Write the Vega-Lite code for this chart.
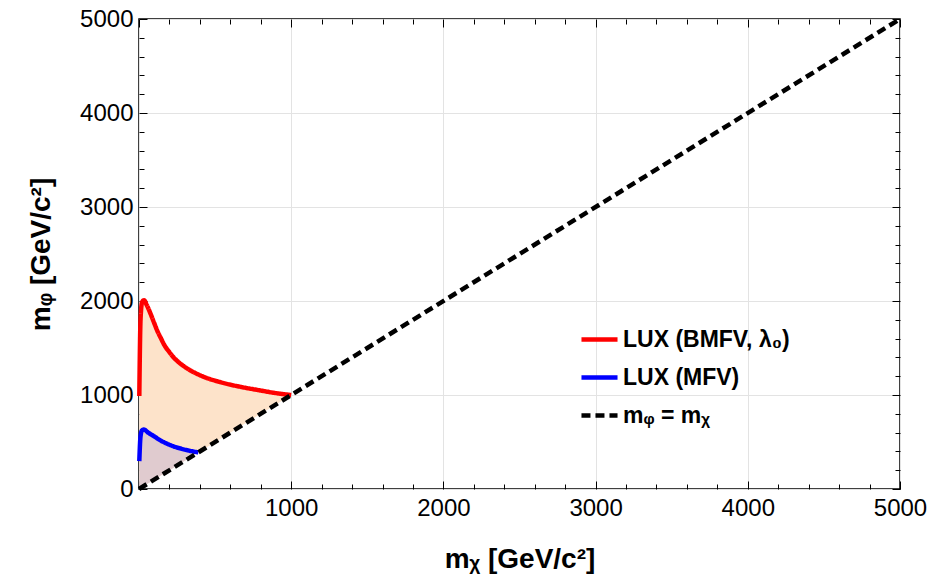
{
  "$schema": "https://vega.github.io/schema/vega-lite/v6.json",
  "width": 761,
  "height": 470,
  "autosize": {"type": "none"},
  "padding": {"left": 139, "top": 19, "right": 32, "bottom": 96},
  "config": {
    "view": {"stroke": "black", "strokeWidth": 1.5},
    "font": "Liberation Sans"
  },
  "datasets": {
    "red": [
      {"mx": 2, "mphi": 990, "lo": 2},
      {"mx": 10, "mphi": 1800, "lo": 10},
      {"mx": 20, "mphi": 1985, "lo": 20},
      {"mx": 33, "mphi": 2009, "lo": 33},
      {"mx": 50, "mphi": 1960, "lo": 50},
      {"mx": 77, "mphi": 1860, "lo": 77},
      {"mx": 100, "mphi": 1765, "lo": 100},
      {"mx": 121, "mphi": 1680, "lo": 121},
      {"mx": 145, "mphi": 1600, "lo": 145},
      {"mx": 166, "mphi": 1533, "lo": 166},
      {"mx": 200, "mphi": 1455, "lo": 200},
      {"mx": 232, "mphi": 1392, "lo": 232},
      {"mx": 275, "mphi": 1330, "lo": 275},
      {"mx": 320, "mphi": 1279, "lo": 320},
      {"mx": 408, "mphi": 1205, "lo": 408},
      {"mx": 541, "mphi": 1134, "lo": 541},
      {"mx": 673, "mphi": 1085, "lo": 673},
      {"mx": 806, "mphi": 1046, "lo": 806},
      {"mx": 900, "mphi": 1020, "lo": 900},
      {"mx": 1000, "mphi": 1000, "lo": 1000}
    ],
    "blue": [
      {"mx": 2, "mphi": 296, "lo": 2},
      {"mx": 10, "mphi": 560, "lo": 10},
      {"mx": 20, "mphi": 625, "lo": 20},
      {"mx": 33, "mphi": 632, "lo": 33},
      {"mx": 60, "mphi": 600, "lo": 60},
      {"mx": 99, "mphi": 561, "lo": 99},
      {"mx": 140, "mphi": 518, "lo": 140},
      {"mx": 187, "mphi": 480, "lo": 187},
      {"mx": 230, "mphi": 452, "lo": 230},
      {"mx": 276, "mphi": 430, "lo": 276},
      {"mx": 330, "mphi": 408, "lo": 330},
      {"mx": 390, "mphi": 390, "lo": 390}
    ],
    "lines": [
      {"series": "LUX (BMFV, λ₀)", "mx": 2, "mphi": 990},
      {"series": "LUX (BMFV, λ₀)", "mx": 10, "mphi": 1800},
      {"series": "LUX (BMFV, λ₀)", "mx": 20, "mphi": 1985},
      {"series": "LUX (BMFV, λ₀)", "mx": 33, "mphi": 2009},
      {"series": "LUX (BMFV, λ₀)", "mx": 50, "mphi": 1960},
      {"series": "LUX (BMFV, λ₀)", "mx": 77, "mphi": 1860},
      {"series": "LUX (BMFV, λ₀)", "mx": 100, "mphi": 1765},
      {"series": "LUX (BMFV, λ₀)", "mx": 121, "mphi": 1680},
      {"series": "LUX (BMFV, λ₀)", "mx": 145, "mphi": 1600},
      {"series": "LUX (BMFV, λ₀)", "mx": 166, "mphi": 1533},
      {"series": "LUX (BMFV, λ₀)", "mx": 200, "mphi": 1455},
      {"series": "LUX (BMFV, λ₀)", "mx": 232, "mphi": 1392},
      {"series": "LUX (BMFV, λ₀)", "mx": 275, "mphi": 1330},
      {"series": "LUX (BMFV, λ₀)", "mx": 320, "mphi": 1279},
      {"series": "LUX (BMFV, λ₀)", "mx": 408, "mphi": 1205},
      {"series": "LUX (BMFV, λ₀)", "mx": 541, "mphi": 1134},
      {"series": "LUX (BMFV, λ₀)", "mx": 673, "mphi": 1085},
      {"series": "LUX (BMFV, λ₀)", "mx": 806, "mphi": 1046},
      {"series": "LUX (BMFV, λ₀)", "mx": 900, "mphi": 1020},
      {"series": "LUX (BMFV, λ₀)", "mx": 1000, "mphi": 1000},
      {"series": "LUX (MFV)", "mx": 2, "mphi": 296},
      {"series": "LUX (MFV)", "mx": 10, "mphi": 560},
      {"series": "LUX (MFV)", "mx": 20, "mphi": 625},
      {"series": "LUX (MFV)", "mx": 33, "mphi": 632},
      {"series": "LUX (MFV)", "mx": 60, "mphi": 600},
      {"series": "LUX (MFV)", "mx": 99, "mphi": 561},
      {"series": "LUX (MFV)", "mx": 140, "mphi": 518},
      {"series": "LUX (MFV)", "mx": 187, "mphi": 480},
      {"series": "LUX (MFV)", "mx": 230, "mphi": 452},
      {"series": "LUX (MFV)", "mx": 276, "mphi": 430},
      {"series": "LUX (MFV)", "mx": 330, "mphi": 408},
      {"series": "LUX (MFV)", "mx": 390, "mphi": 390},
      {"series": "mᵩ = mᵪ", "mx": 0, "mphi": 0},
      {"series": "mᵩ = mᵪ", "mx": 5000, "mphi": 5000}
    ]
  },
  "layer": [
    {
      "data": {"name": "red"},
      "mark": {"type": "area", "interpolate": "monotone", "color": "#FDE3CA"},
      "encoding": {
        "x": {
          "field": "mx", "type": "quantitative",
          "scale": {"domain": [0, 5000], "nice": false},
          "axis": {
            "orient": "bottom",
            "values": [0,200,400,600,800,1000,1200,1400,1600,1800,2000,2200,2400,2600,2800,3000,3200,3400,3600,3800,4000,4200,4400,4600,4800,5000],
            "format": "d",
            "labelExpr": "datum.value % 1000 === 0 && datum.value > 0 ? datum.label : ''",
            "domain": false,
            "tickColor": "black",
            "tickWidth": 1,
            "tickSize": {"condition": {"test": "datum.value % 1000 === 0", "value": -8}, "value": -5},
            "grid": true,
            "gridColor": "#e3e3e3",
            "gridOpacity": {"condition": {"test": "datum.value % 1000 === 0", "value": 1}, "value": 0},
            "labelFontSize": 24,
            "labelColor": "black",
            "labelPadding": 15,
            "labelFlush": false,
            "title": "mᵪ [GeV/c²]",
            "titleFontSize": 28,
            "titleFontWeight": "bold",
            "titleColor": "black",
            "titlePadding": 25
          }
        },
        "y": {
          "field": "mphi", "type": "quantitative",
          "scale": {"domain": [0, 5000], "nice": false},
          "axis": {
            "orient": "left",
            "values": [0,200,400,600,800,1000,1200,1400,1600,1800,2000,2200,2400,2600,2800,3000,3200,3400,3600,3800,4000,4200,4400,4600,4800,5000],
            "format": "d",
            "labelExpr": "datum.value % 1000 === 0 ? datum.label : ''",
            "domain": false,
            "tickColor": "black",
            "tickWidth": 1,
            "tickSize": {"condition": {"test": "datum.value % 1000 === 0", "value": -8}, "value": -5},
            "grid": true,
            "gridColor": "#e3e3e3",
            "gridOpacity": {"condition": {"test": "datum.value % 1000 === 0", "value": 1}, "value": 0},
            "labelFontSize": 24,
            "labelColor": "black",
            "labelPadding": 14,
            "labelFlush": false,
            "title": "mᵩ [GeV/c²]",
            "titleFontSize": 28,
            "titleFontWeight": "bold",
            "titleColor": "black",
            "titlePadding": 24
          }
        },
        "y2": {"field": "lo"}
      }
    },
    {
      "data": {"name": "blue"},
      "mark": {"type": "area", "interpolate": "monotone", "color": "#E0CBCF"},
      "encoding": {
        "x": {
          "field": "mx", "type": "quantitative",
          "axis": {
            "orient": "top",
            "values": [0,200,400,600,800,1000,1200,1400,1600,1800,2000,2200,2400,2600,2800,3000,3200,3400,3600,3800,4000,4200,4400,4600,4800,5000],
            "labels": false, "domain": false, "grid": false, "title": null,
            "tickColor": "black",
            "tickSize": {"condition": {"test": "datum.value % 1000 === 0", "value": -8}, "value": -5}
          }
        },
        "y": {
          "field": "mphi", "type": "quantitative",
          "axis": {
            "orient": "right",
            "values": [0,200,400,600,800,1000,1200,1400,1600,1800,2000,2200,2400,2600,2800,3000,3200,3400,3600,3800,4000,4200,4400,4600,4800,5000],
            "labels": false, "domain": false, "grid": false, "title": null,
            "tickColor": "black",
            "tickSize": {"condition": {"test": "datum.value % 1000 === 0", "value": -8}, "value": -5}
          }
        },
        "y2": {"field": "lo"}
      }
    },
    {
      "data": {"name": "lines"},
      "mark": {"type": "line", "interpolate": "monotone"},
      "encoding": {
        "x": {"field": "mx", "type": "quantitative", "axis": null},
        "y": {"field": "mphi", "type": "quantitative", "axis": null},
        "color": {
          "field": "series", "type": "nominal",
          "scale": {"domain": ["LUX (BMFV, λ₀)", "LUX (MFV)", "mᵩ = mᵪ"], "range": ["#ff0000", "#0000ff", "#000000"]},
          "legend": {
            "orient": "none",
            "legendX": 440,
            "legendY": 300,
            "title": null,
            "symbolType": "stroke",
            "symbolSize": 1300,
            "labelFontSize": 23,
            "labelFontWeight": "bold",
            "labelColor": "black",
            "labelOffset": 3,
            "rowPadding": 5,
            "labelLimit": 300
          }
        },
        "strokeDash": {
          "field": "series", "type": "nominal",
          "scale": {"domain": ["LUX (BMFV, λ₀)", "LUX (MFV)", "mᵩ = mᵪ"], "range": [[1, 0], [1, 0], [9, 5]]}
        },
        "strokeWidth": {
          "field": "series", "type": "nominal",
          "scale": {"domain": ["LUX (BMFV, λ₀)", "LUX (MFV)", "mᵩ = mᵪ"], "range": [4.5, 4.5, 3]}
        }
      }
    }
  ],
  "resolve": {"axis": {"x": "independent", "y": "independent"}}
}
